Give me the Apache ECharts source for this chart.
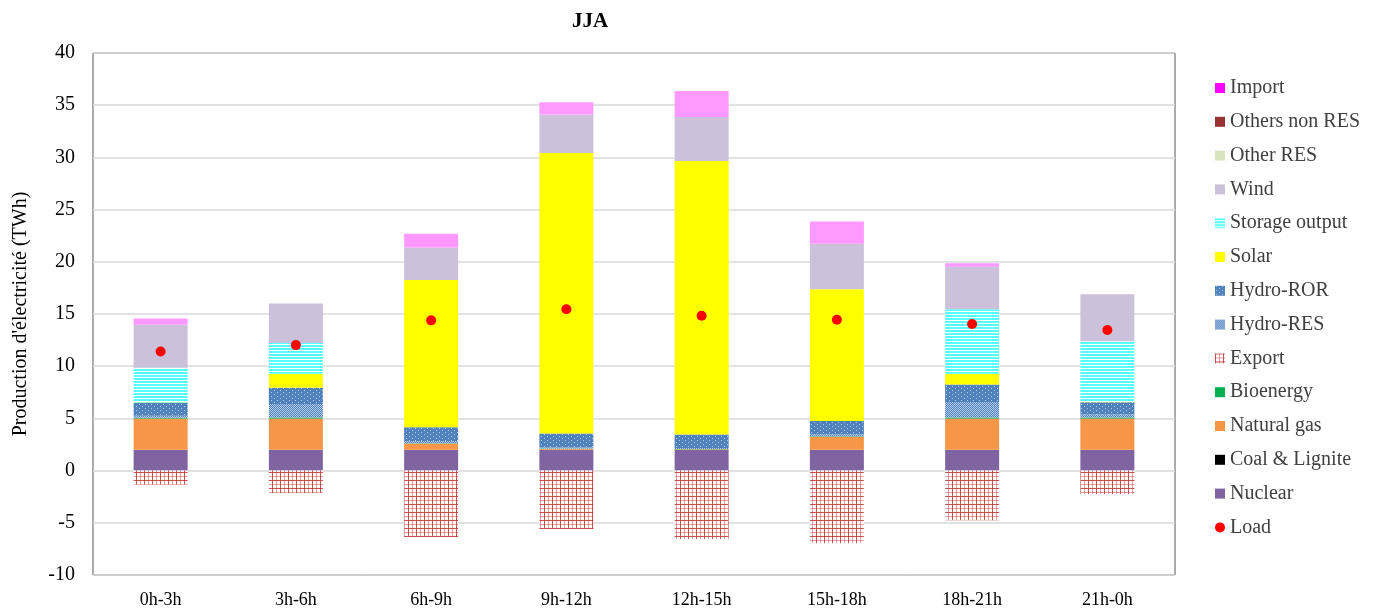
<!DOCTYPE html>
<html>
<head>
<meta charset="utf-8">
<script src="https://cdn.jsdelivr.net/npm/echarts@6/dist/echarts.min.js"></script>
<style>
html,body{margin:0;padding:0;background:#fff;}
#chart{width:1374px;height:609px;}
</style>
</head>
<body>
<div id="chart"></div>
<script>
// ---- Data (TWh) ----
const categories = ['0h-3h','3h-6h','6h-9h','9h-12h','12h-15h','15h-18h','18h-21h','21h-0h'];
const nuclear      = [2.0, 2.0, 2.0, 2.0, 2.0, 2.0, 2.0, 2.0];
const coal         = [0, 0, 0, 0, 0, 0, 0, 0];
const naturalGas   = [3.0, 3.0, 0.6, 0.1, 0.05, 1.25, 3.0, 3.0];
const bioenergy    = [0.06, 0.08, 0.03, 0.02, 0.02, 0.03, 0.08, 0.08];
const exportVals   = [-1.35, -2.15, -6.35, -5.6, -6.55, -6.95, -4.75, -2.25];
const hydroRES     = [0.2, 1.3, 0.2, 0.1, 0.1, 0.2, 1.5, 0.3];
const hydroROR     = [1.22, 1.55, 1.32, 1.33, 1.29, 1.27, 1.67, 1.17];
const solar        = [0.05, 1.34, 14.1, 26.87, 26.19, 12.63, 1.02, 0.05];
const storage      = [3.32, 2.95, 0, 0, 0, 0, 6.19, 5.78];
const wind         = [4.13, 3.79, 3.13, 3.7, 4.23, 4.36, 4.07, 4.52];
const otherRES     = [0, 0, 0, 0, 0, 0, 0, 0];
const othersNonRES = [0, 0, 0, 0, 0, 0, 0, 0];
const importVals   = [0.58, 0, 1.3, 1.16, 2.47, 2.12, 0.32, 0];
const load         = [11.4, 12.02, 14.39, 15.45, 14.84, 14.45, 14.04, 13.46];
const yTicks = { min: -10, max: 40, interval: 5 };

// ---- Patterns ----
function makeTile(w, h, draw) {
  const c = document.createElement('canvas');
  c.width = w; c.height = h;
  const ctx = c.getContext('2d');
  draw(ctx, w, h);
  return c;
}
const storagePat = makeTile(4, 3, (ctx, w, h) => {
  ctx.fillStyle = '#ffffff'; ctx.fillRect(0, 0, w, h);
  ctx.fillStyle = '#55ffff'; ctx.fillRect(0, 0, w, 2);
});
const rorPat = makeTile(6, 4, (ctx, w, h) => {
  ctx.fillStyle = '#4f81bd'; ctx.fillRect(0, 0, w, h);
  ctx.fillStyle = '#b8cde6';
  ctx.fillRect(1, 0, 1, 1);
  ctx.fillRect(4, 2, 1, 1);
});
const resPat = makeTile(2, 2, (ctx, w, h) => {
  ctx.fillStyle = '#4f81bd'; ctx.fillRect(0, 0, w, h);
  ctx.fillStyle = '#b4cbea';
  ctx.fillRect(0, 0, 1, 1);
  ctx.fillRect(1, 1, 1, 1);
});
const exportPat = makeTile(8, 8, (ctx, w, h) => {
  ctx.fillStyle = '#ffffff'; ctx.fillRect(0, 0, w, h);
  ctx.fillStyle = 'rgba(200,80,80,0.55)';
  ctx.fillRect(0, 0, w, 1); ctx.fillRect(0, 4, w, 1);
  ctx.fillRect(0, 0, 1, h); ctx.fillRect(4, 0, 1, h);
  ctx.fillStyle = 'rgba(192,60,60,0.8)';
  ctx.fillRect(0, 0, w, 1); ctx.fillRect(0, 0, 1, h);
});

const font = '"Liberation Serif", "Times New Roman", serif';

function bar(name, data, color, extra) {
  return Object.assign({
    name: name, type: 'bar', stack: 'total', data: data,
    barWidth: 54,
    itemStyle: { color: color },
    emphasis: { disabled: true }
  }, extra || {});
}

const series = [
  bar('Nuclear', nuclear, '#8064a2'),
  bar('Coal & Lignite', coal, '#000000'),
  bar('Natural gas', naturalGas, '#f79646'),
  bar('Bioenergy', bioenergy, '#00b050'),
  bar('Export', exportVals, { image: exportPat, repeat: 'repeat' }),
  bar('Hydro-RES', hydroRES, { image: resPat, repeat: 'repeat' }),
  bar('Hydro-ROR', hydroROR, { image: rorPat, repeat: 'repeat' }),
  bar('Solar', solar, '#ffff00'),
  bar('Storage output', storage, { image: storagePat, repeat: 'repeat' }),
  bar('Wind', wind, '#ccc1da'),
  bar('Other RES', otherRES, '#d7e4bd'),
  bar('Others non RES', othersNonRES, '#993333'),
  bar('Import', importVals, '#ff99ff'),
  {
    name: 'Load', type: 'scatter', data: load,
    symbol: 'circle', symbolSize: 10,
    itemStyle: { color: '#ff0000', opacity: 1 }, z: 10,
    emphasis: { disabled: true }
  }
];

const legendData = [
  { name: 'Import', itemStyle: { color: '#ff00ff' } },
  { name: 'Others non RES' },
  { name: 'Other RES' },
  { name: 'Wind' },
  { name: 'Storage output' },
  { name: 'Solar' },
  { name: 'Hydro-ROR' },
  { name: 'Hydro-RES' },
  { name: 'Export' },
  { name: 'Bioenergy' },
  { name: 'Natural gas' },
  { name: 'Coal & Lignite' },
  { name: 'Nuclear' },
  { name: 'Load', icon: 'circle', itemStyle: { color: '#ff0000', opacity: 1 } }
];

const chart = echarts.init(document.getElementById('chart'), null, { renderer: 'canvas' });
chart.setOption({
  animation: false,
  backgroundColor: '#ffffff',
  title: {
    text: 'JJA', left: 585, top: 6, textAlign: 'center',
    textStyle: { fontFamily: font, fontSize: 21, fontWeight: 'bold', color: '#000' }
  },
  legend: {
    orient: 'vertical', left: 1210, top: 73,
    itemWidth: 10, itemHeight: 10, itemGap: 13.8,
    icon: 'rect',
    data: legendData,
    textStyle: { fontFamily: font, fontSize: 20, color: '#404040', lineHeight: 20 }
  },
  grid: {
    left: 93, right: 199, top: 53, bottom: 34,
    show: true, borderColor: '#595959', borderWidth: 1, backgroundColor: 'transparent'
  },
  xAxis: {
    type: 'category', data: categories,
    axisLine: { show: false }, axisTick: { show: false },
    axisLabel: { fontFamily: font, fontSize: 18, color: '#000', margin: 16 }
  },
  yAxis: {
    type: 'value', min: yTicks.min, max: yTicks.max, interval: yTicks.interval,
    name: "Production d'électricité (TWh)", nameLocation: 'middle', nameGap: 62,
    nameTextStyle: { fontFamily: font, fontSize: 20, color: '#000' },
    axisLine: { show: false }, axisTick: { show: false },
    axisLabel: { fontFamily: font, fontSize: 20, color: '#000', margin: 18 },
    splitLine: { lineStyle: { color: '#d9d9d9', width: 1.5 } }
  },
  series: series
});
</script>
</body>
</html>
